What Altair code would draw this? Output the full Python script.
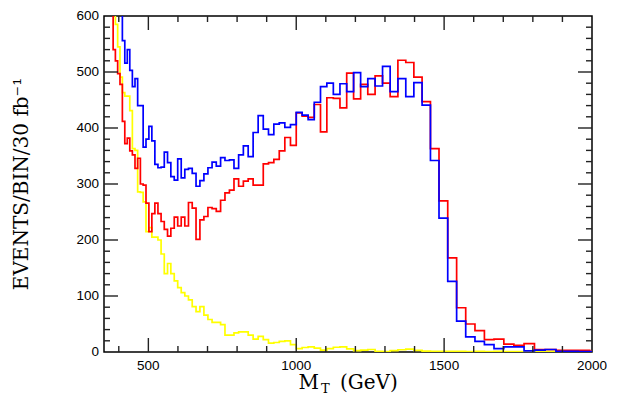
import altair as alt
import pandas as pd

# ---- data (log-spaced bins of M_T in GeV) ----
bin_edges = [345.2, 352.0, 359.0, 366.2, 373.5, 380.9, 388.5, 396.2, 404.1, 412.1,
             420.3, 428.7, 437.2, 445.9, 454.8, 463.8, 473.0, 482.4, 492.0, 501.8,
             511.8, 522.0, 532.4, 543.0, 553.8, 564.8, 576.0, 587.5, 599.2, 611.1,
             623.2, 635.6, 648.3, 661.2, 674.3, 687.8, 701.4, 715.4, 729.6, 744.2,
             759.0, 774.1, 789.5, 805.2, 821.2, 837.5, 854.2, 871.2, 888.5, 906.2,
             924.2, 942.6, 961.4, 980.5,
             1000.0, 1019.9, 1040.2, 1060.9, 1082.0, 1103.5, 1125.4, 1147.8, 1170.6, 1193.9,
             1217.7, 1241.9, 1266.6, 1291.8, 1317.5, 1343.7, 1370.4, 1397.7, 1425.5, 1453.8,
             1482.7, 1512.2, 1542.3, 1573.0, 1604.3, 1636.2, 1668.7, 1701.9, 1735.8, 1770.3,
             1805.5, 1841.5, 1878.1, 1915.5, 1953.6, 1992.4, 2032.1]

red_counts = [900, 850, 780, 720, 650, 540, 520, 497, 478, 412,
              372, 382, 359, 352, 328, 346, 300, 298, 266, 215,
              247, 266, 247, 233, 219, 207, 221, 241, 225, 241,
              225, 267, 257, 201, 236, 242, 258, 256, 251, 271,
              284, 289, 309, 296, 305, 309, 298, 298, 336, 338,
              344, 359, 383, 369,
              427, 421, 419, 442, 393, 454, 453, 436, 498, 452,
              478, 460, 493, 480, 456, 521, 517, 491, 447, 363,
              270, 168, 79, 50, 38, 22, 23, 14, 12, 15,
              4.5, 4.5, 3, 3, 3, 1]

blue_counts = [950, 900, 850, 800, 760, 720, 680, 650, 620, 556,
               516, 540, 503, 474, 488, 440, 440, 366, 380, 403,
               377, 335, 329, 330, 357, 338, 313, 307, 345, 311,
               326, 328, 319, 296, 306, 318, 329, 339, 332, 347,
               342, 343, 328, 352, 368, 349, 392, 422, 398, 388,
               407, 409, 401, 406,
               428, 423, 415, 446, 474, 480, 460, 479, 465, 499,
               474, 488, 475, 510, 465, 488, 456, 481, 441, 342,
               239, 126, 55, 27, 19, 13, 6, 9, 9, 2,
               3.5, 4.5, 1, 1, 0.5, 0.5]

yellow_counts = [950, 900, 850, 800, 740, 680, 585, 545, 491, 463,
                 457, 457, 431, 363, 360, 286, 285, 268, 215, 222,
                 205, 205, 200, 175, 140, 158, 140, 127, 115, 106,
                 100, 93, 81, 72, 81, 66, 58, 53, 53, 49,
                 30, 30, 34, 36, 36, 30, 23, 28, 22, 16,
                 17, 19, 20, 13,
                 6, 8, 9, 7, 3.5, 6, 8.5, 9, 5.7, 2.5,
                 3.5, 4.5, 1, 0.5, 2.5, 4, 5, 3, 1.5, 1,
                 1, 1, 1, 0.5, 1, 0.5, 1, 0.5, 0.5, 0.5,
                 0.5, 1, 1, 0.5, 0.5, 0.5]

x_label_values = [500, 1000, 1500, 2000]
y_label_values = [0, 100, 200, 300, 400, 500, 600]
x_major_ticks = [500, 1000, 1500]
x_minor_ticks = [400, 600, 700, 800, 900, 1100, 1200, 1300, 1400, 1600, 1700, 1800, 1900]
y_major_ticks = [100, 200, 300, 400, 500]
y_minor_ticks = [20, 40, 60, 80, 120, 140, 160, 180, 220, 240, 260, 280,
                 320, 340, 360, 380, 420, 440, 460, 480, 520, 540, 560, 580]

W, H = 488, 336
MAJOR, MINOR = 14, 6
x_scale = alt.Scale(domain=[350, 2000], nice=False, zero=False)
y_scale = alt.Scale(domain=[0, 600], nice=False, zero=False)


def step_frame(counts):
    xs, ys = [], []
    for i, c in enumerate(counts):
        xs.append(bin_edges[i])
        ys.append(c)
    xs.append(bin_edges[len(counts)])
    ys.append(counts[-1])
    return pd.DataFrame({"mt": xs, "n": ys})


def hist_layer(counts, color):
    return alt.Chart(step_frame(counts)).mark_line(
        interpolate="step-after", color=color, strokeWidth=1.7, clip=True
    ).encode(
        x=alt.X("mt:Q", scale=x_scale, axis=None),
        y=alt.Y("n:Q", scale=y_scale, axis=None),
    )


def xtick_layer(vals, y0, y1):
    return alt.Chart(pd.DataFrame({"v": vals})).mark_rule(
        color="#222222", strokeWidth=1.4
    ).encode(
        x=alt.X("v:Q", scale=x_scale, axis=None),
        y=alt.value(y0), y2=alt.value(y1),
    )


def ytick_layer(vals, x0, x1):
    return alt.Chart(pd.DataFrame({"v": vals})).mark_rule(
        color="#222222", strokeWidth=1.4
    ).encode(
        y=alt.Y("v:Q", scale=y_scale, axis=None),
        x=alt.value(x0), x2=alt.value(x1),
    )


x_labels = alt.Chart(pd.DataFrame({"v": x_label_values})).mark_text(
    font="Liberation Sans", fontSize=13.5, align="center", baseline="middle", color="black"
).encode(
    x=alt.X("v:Q", scale=x_scale, axis=None),
    y=alt.value(H + 13.5),
    text=alt.Text("v:Q"),
)

y_labels = alt.Chart(pd.DataFrame({"v": y_label_values})).mark_text(
    font="Liberation Sans", fontSize=13.5, align="right", baseline="middle", color="black"
).encode(
    y=alt.Y("v:Q", scale=y_scale, axis=None),
    x=alt.value(-5),
    text=alt.Text("v:Q"),
)


def text_layer(txt, x, y, size, align, angle=0):
    return alt.Chart(pd.DataFrame({"t": [txt]})).mark_text(
        font="DejaVu Serif", fontSize=size, align=align, baseline="alphabetic",
        angle=angle, color="black"
    ).encode(text="t:N", x=alt.value(x), y=alt.value(y))


layers = [
    hist_layer(yellow_counts, "#ffff00"),
    hist_layer(red_counts, "#ff0000"),
    hist_layer(blue_counts, "#0000ff"),
    xtick_layer(x_major_ticks, H, H - MAJOR),
    xtick_layer(x_minor_ticks, H, H - MINOR),
    xtick_layer(x_major_ticks, 0, MAJOR),
    xtick_layer(x_minor_ticks, 0, MINOR),
    ytick_layer(y_major_ticks, 0, MAJOR),
    ytick_layer(y_minor_ticks, 0, MINOR),
    ytick_layer(y_major_ticks, W, W - MAJOR),
    ytick_layer(y_minor_ticks, W, W - MINOR),
    x_labels,
    y_labels,
    text_layer("M", 215, H + 37, 20, "right"),
    text_layer("T", 217, H + 41, 13, "left"),
    text_layer("(GeV)", 236, H + 37, 20, "left"),
    text_layer("EVENTS/BIN/30  fb\u207b\u00b9", -76, H / 2, 20, "center", angle=270),
]

chart = alt.layer(*layers).properties(
    width=W, height=H,
    padding={"left": 96, "top": 8, "right": 15, "bottom": 43},
    autosize=alt.AutoSizeParams(type="none"),
    background="white",
).configure_view(
    stroke="black", strokeWidth=1.5
)

chart.save("out.html", embed_options={"renderer": "svg", "actions": False})
